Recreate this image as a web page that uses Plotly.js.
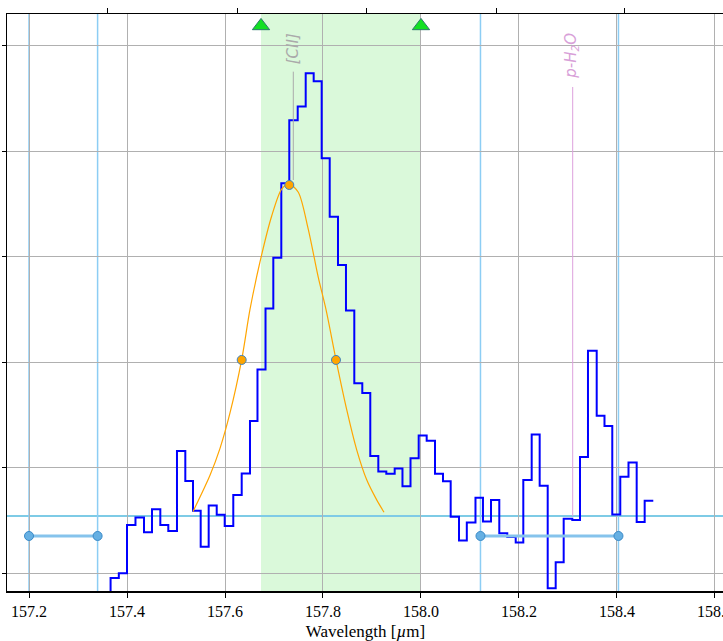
<!DOCTYPE html>
<html><head><meta charset="utf-8">
<script src="https://cdn.plot.ly/plotly-3.0.1.min.js"></script>
<style>html,body{margin:0;padding:0;overflow:hidden;background:#fff}#chart{width:730px;height:641px}</style>
</head><body><div id="chart"></div>
<script>
// Spectrum bins (left edges, µm) and flux (arbitrary units)
const binLeft = [157.350, 157.3665, 157.3833, 157.4000, 157.4173, 157.4347, 157.4510, 157.4680, 157.4843, 157.5020,
  157.5190, 157.5347, 157.5504, 157.5667, 157.5831, 157.5994, 157.6169, 157.6341, 157.6510, 157.6663,
  157.6827, 157.6986, 157.7149, 157.7312, 157.7484, 157.7647, 157.7810, 157.7973, 157.8137, 157.8306,
  157.8469, 157.8639, 157.8802, 157.8965, 157.9129, 157.9292, 157.9463, 157.9622, 157.9786, 157.9953,
  158.0116, 158.0286, 158.0449, 158.0606, 158.0776, 158.0935, 158.1112, 158.1265, 158.1429, 158.1598,
  158.1761, 158.1933, 158.2088, 158.2259, 158.2422, 158.2586, 158.2749, 158.2912, 158.3088, 158.3245,
  158.3408, 158.3586, 158.3745, 158.3904, 158.4067, 158.4235, 158.4402, 158.4565];
const flux = [-0.40, -0.043, 0.002, 0.460, 0.529, 0.391, 0.609, 0.460, 0.403, 1.159,
  0.875, 0.593, 0.254, 0.643, 0.555, 0.450, 0.742, 0.947, 1.444, 1.931,
  2.509, 2.990, 3.695, 4.293, 4.423, 4.736, 4.660, 3.932, 3.379, 2.920,
  2.490, 1.801, 1.709, 1.112, 0.966, 0.944, 0.994, 0.827, 1.091, 1.307,
  1.257, 0.944, 0.873, 0.538, 0.313, 0.482, 0.718, 0.493, 0.695, 0.381,
  0.346, 0.294, 0.884, 1.317, 0.830, -0.140, 0.106, 0.517, 0.507, 1.102,
  2.108, 1.494, 1.396, 0.558, 0.915, 1.051, 0.488, 0.688];
const binEnd = 158.4741;

// Line-fit curve
const fitX = [157.5347, 157.5694, 157.5898, 157.6102, 157.6341, 157.6510, 157.6714, 157.6953, 157.7157, 157.7312,
  157.7496, 157.7700, 157.7904, 157.8061, 157.8265, 157.8484, 157.8688, 157.8892, 157.9096, 157.9245];
const fitY = [0.586, 0.930, 1.185, 1.520, 2.025, 2.500, 2.950, 3.385, 3.640, 3.686,
  3.610, 3.259, 2.803, 2.500, 2.025, 1.551, 1.171, 0.887, 0.697, 0.580];
const fitPointX = [157.6341, 157.7312, 157.8265];
const fitPointY = [2.022, 3.679, 2.022];

const continuumLevel = 0.545;
const contWindowX = [157.2, 157.34, 158.1214, 158.403];
const contWindowLevel = 0.355;
const lineWindow = [157.6735, 158.0];
const lineWindowMarkY = 5.185;
const ciiX = 157.7394, ciiY = [3.726, 4.752];
const h2oX = 158.3096, h2oY = [0.545, 4.607];

const xTicks = [157.2, 157.4, 157.6, 157.8, 158.0, 158.2, 158.4, 158.6];
const xTickText = ['157.2', '157.4', '157.6', '157.8', '158.0', '158.2', '158.4', '158.6'];
const yTicks = [0, 1, 2, 3, 4, 5];
const topTicks = [157.3612, 157.6255, 157.8888, 158.1531, 158.4153];

const xRange = [157.1551, 158.6184];
const yRange = [-0.166, 5.298];
const serif = 'Liberation Serif, Times New Roman, serif';

const traces = [
  {x: binLeft.concat([binEnd]), y: flux.concat([flux[flux.length - 1]]), mode: 'lines',
   line: {shape: 'hv', color: '#0000ff', width: 2}, hoverinfo: 'skip'},
  {x: [ciiX, ciiX], y: ciiY, mode: 'lines', line: {color: '#aaaaaa', width: 1}},
  {x: [h2oX, h2oX], y: h2oY, mode: 'lines', line: {color: '#dda0dd', width: 1}},
  {x: fitX, y: fitY, mode: 'lines', line: {shape: 'spline', smoothing: 0.8, color: '#ffa500', width: 1.2}},
  {x: fitPointX, y: fitPointY, mode: 'markers',
   marker: {color: '#ffa500', size: 9, line: {color: '#3b82c4', width: 1}}},
  {x: contWindowX.slice(0, 2), y: [contWindowLevel, contWindowLevel], mode: 'lines+markers',
   line: {color: '#85c3ec', width: 3}, marker: {color: '#66b0e3', size: 9, line: {color: '#3a8ac8', width: 1}}},
  {x: contWindowX.slice(2, 4), y: [contWindowLevel, contWindowLevel], mode: 'lines+markers',
   line: {color: '#85c3ec', width: 3}, marker: {color: '#66b0e3', size: 9, line: {color: '#3a8ac8', width: 1}}},
  {x: lineWindow, y: [lineWindowMarkY, lineWindowMarkY], xaxis: 'x2', mode: 'markers', cliponaxis: false,
   marker: {symbol: 'triangle-up', size: 15, color: '#13e023', line: {color: '#2a7a68', width: 1}}}
];

const shapes = [
  {type: 'rect', xref: 'x', yref: 'paper', x0: lineWindow[0], x1: lineWindow[1], y0: 0, y1: 1,
   fillcolor: 'rgba(144,238,144,0.33)', line: {width: 0}, layer: 'below'},
  {type: 'line', xref: 'paper', yref: 'y', x0: 0, x1: 1, y0: continuumLevel, y1: continuumLevel,
   line: {color: '#7ecbe6', width: 2}, layer: 'between'}
];
contWindowX.forEach(v => shapes.push({type: 'line', xref: 'x', yref: 'paper', x0: v, x1: v, y0: 0, y1: 1,
  line: {color: '#8ccdf4', width: 1.5}, layer: 'between'}));

const layout = {
  width: 730, height: 641,
  margin: {l: 7, r: 6, t: 14, b: 50},
  paper_bgcolor: '#fff', plot_bgcolor: '#fff',
  showlegend: false,
  xaxis: {range: xRange, tickvals: xTicks, ticktext: xTickText, ticks: 'outside', ticklen: 5, tickwidth: 1,
    tickcolor: '#000', showline: true, linecolor: '#000', linewidth: 1.5, showgrid: true,
    gridcolor: '#b0b0b0', gridwidth: 1, zeroline: false, ticklabeloverflow: 'allow',
    tickfont: {family: serif, size: 16, color: '#000'},
    title: {text: 'Wavelength [<i>µ</i>m]', font: {family: serif, size: 17, color: '#000'}, standoff: 6}},
  xaxis2: {overlaying: 'x', side: 'top', anchor: 'y', range: xRange, tickvals: topTicks,
    showticklabels: false, ticks: 'outside', ticklen: 5, tickcolor: '#000',
    showline: true, linecolor: '#000', linewidth: 1.5, showgrid: false, zeroline: false},
  yaxis: {range: yRange, tickvals: yTicks, showticklabels: false, ticks: 'outside', ticklen: 4,
    tickcolor: '#000', showline: true, linecolor: '#000', linewidth: 1.5, mirror: true,
    showgrid: true, gridcolor: '#b0b0b0', gridwidth: 1, zeroline: false},
  shapes: shapes,
  annotations: [
    {x: ciiX, y: 4.967, xref: 'x', yref: 'y', text: '[CII]', showarrow: false, textangle: -90,
     font: {family: 'DejaVu Sans', size: 15, color: '#aaaaaa', style: 'italic'}, xanchor: 'center', yanchor: 'middle'},
    {x: h2oX, y: 4.90, xref: 'x', yref: 'y', text: 'p-H<sub>2</sub>O', showarrow: false, textangle: -90, xshift: -2,
     font: {family: 'DejaVu Sans', size: 15, color: '#d8a0d8', style: 'italic'}, xanchor: 'center', yanchor: 'middle'}
  ]
};

Plotly.newPlot('chart', traces, layout, {displayModeBar: false, staticPlot: true});
</script>
</body></html>
